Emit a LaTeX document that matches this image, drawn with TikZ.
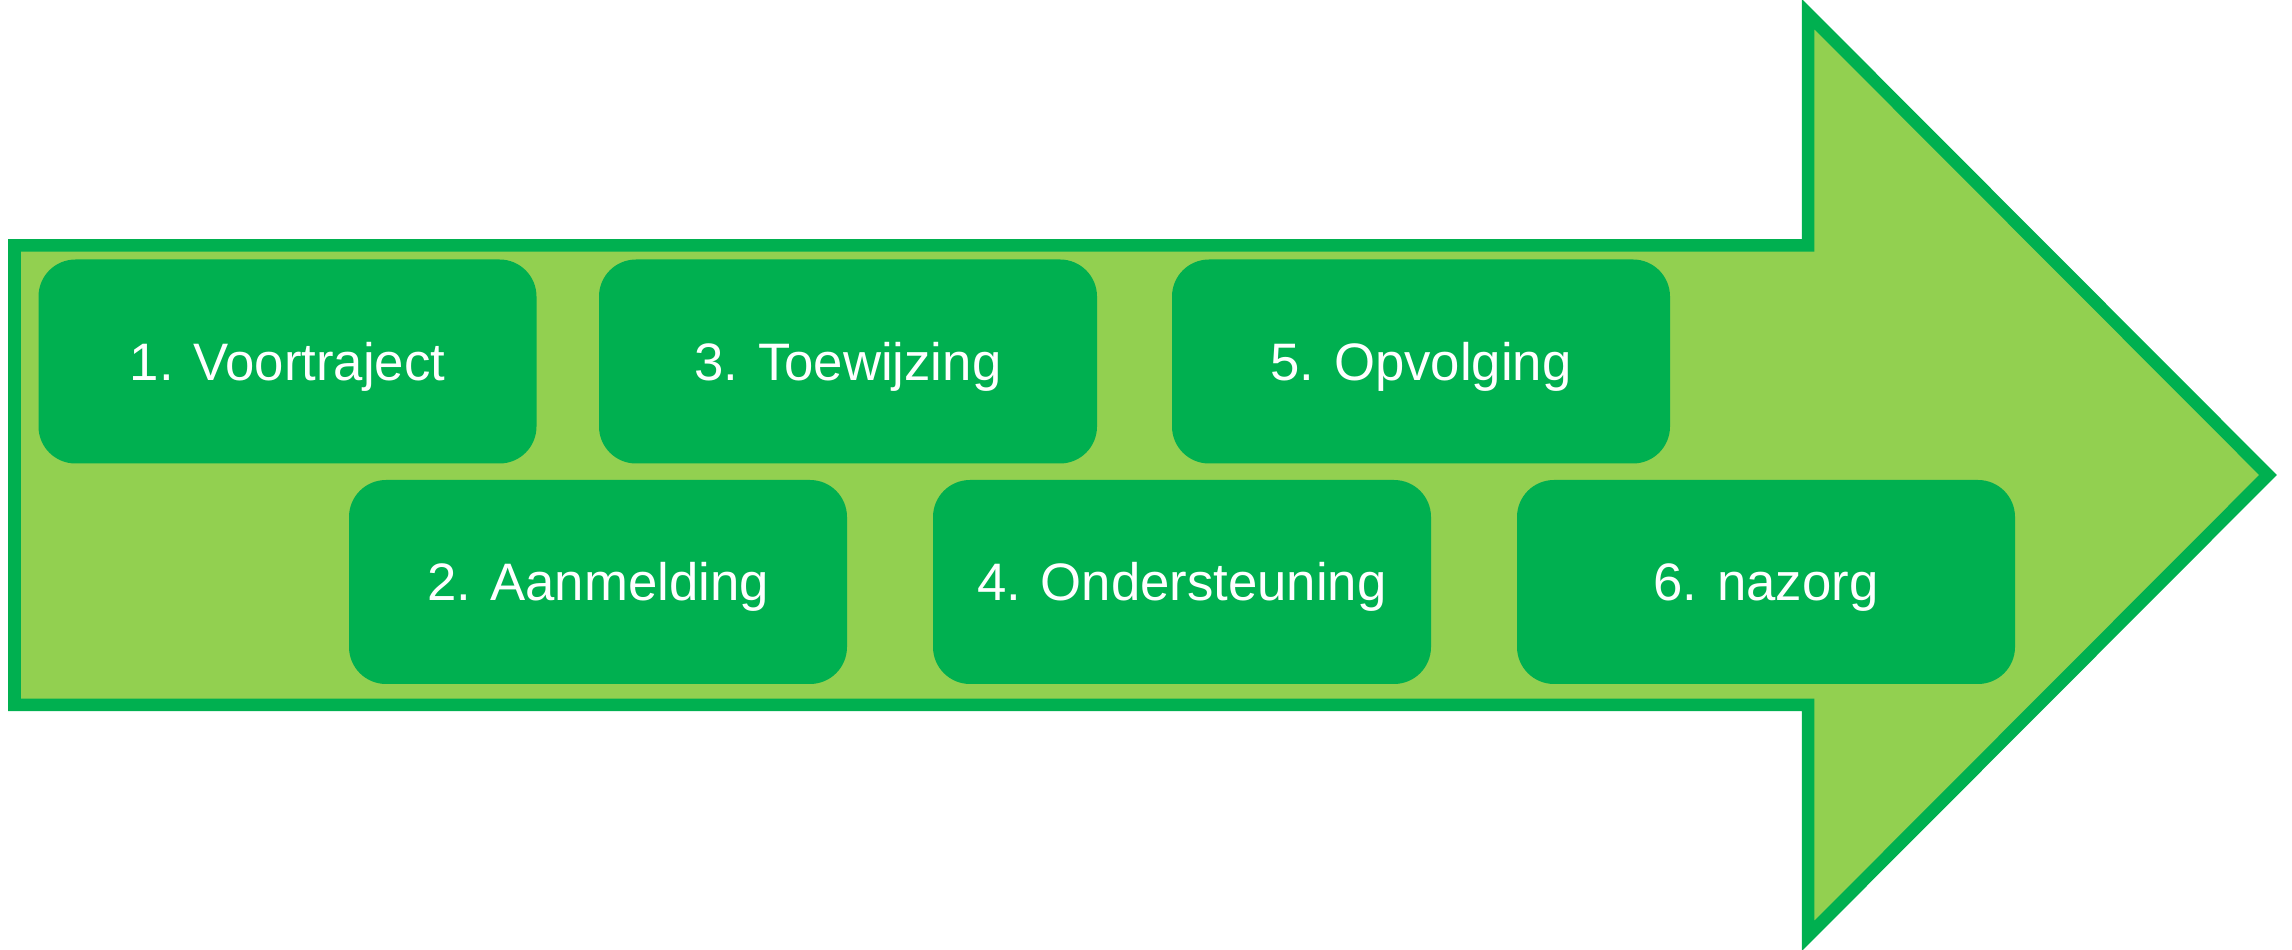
\documentclass[tikz,border=0pt]{standalone}
\usepackage{fontspec}
\setmainfont{Liberation Sans}
\usepackage{xcolor}
\definecolor{stepgreen}{HTML}{00B050}
\definecolor{arrowgreen}{HTML}{92D050}

\begin{document}
\begin{tikzpicture}[
    stepbox/.style={fill=stepgreen, rounded corners=0.37cm, minimum width=4.98cm,
        minimum height=2.04cm, inner sep=0pt, text=white,
        font=\fontsize{15}{18}\selectfont, text height=10.7pt, text depth=0pt,
        anchor=center}]
        \useasboundingbox (0,0) rectangle (22.92,9.5);

        % Big arrow
        \draw[line width=3.56pt, draw=stepgreen, fill=arrowgreen]
            (0.145,7.045) -- (18.08,7.045) -- (18.08,9.36) -- (22.68,4.75)
            -- (18.08,0.14) -- (18.08,2.45) -- (0.145,2.45) -- cycle;

        % Steps, upper row.
        \draw (2.875,5.885) node[stepbox] (s1) {1. Voortraject};
        \draw (8.48,5.885) node[stepbox] (s3) {3. Toewijzing};
        \draw (14.21,5.885) node[stepbox] (s5) {5. Opvolging};

        % Steps, lower row.
        \draw (5.98,3.68) node[stepbox] (s2) {2. Aanmelding};
        \draw (11.82,3.68) node[stepbox] (s4) {4. Ondersteuning};
        \draw (17.66,3.68) node[stepbox] (s6) {6. nazorg};
    \end{tikzpicture}
\end{document}
